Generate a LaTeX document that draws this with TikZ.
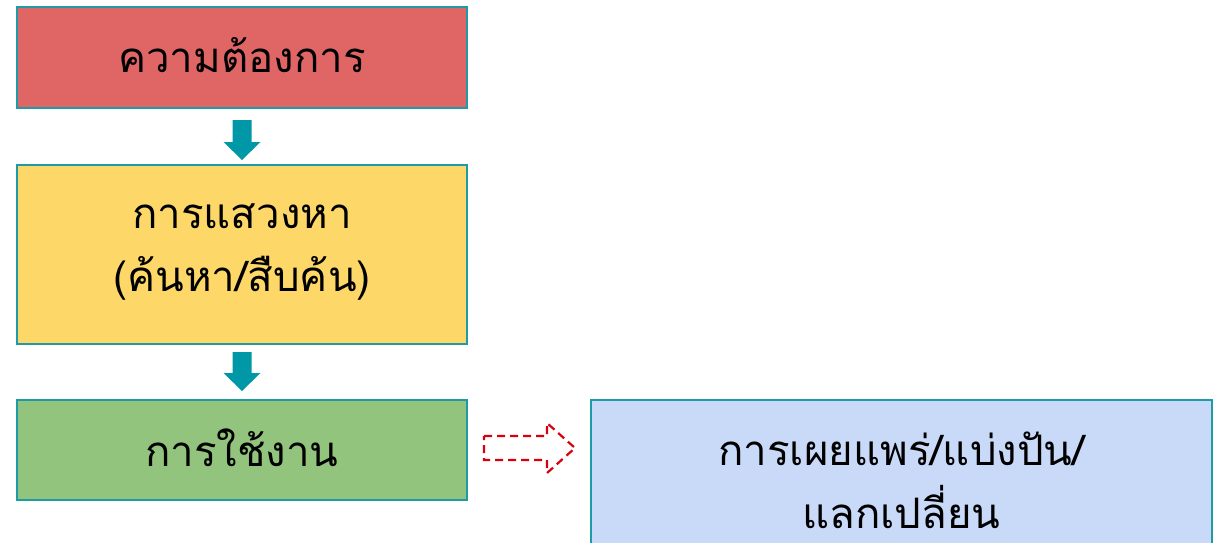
\documentclass[tikz,border=0pt]{standalone}
\usepackage{fontspec}
\newfontfamily\thaifont[Script=Thai]{Loma}
\usetikzlibrary{calc}
\definecolor{edgeteal}{HTML}{1F9BA8}
\definecolor{arrowteal}{HTML}{0097A7}
\definecolor{needred}{HTML}{E06666}
\definecolor{seekyellow}{HTML}{FDD868}
\definecolor{usegreen}{HTML}{93C47D}
\definecolor{shareblue}{HTML}{C9DAF8}
\definecolor{dashred}{HTML}{D9000D}
\tikzset{
  stagebox/.style={draw=edgeteal, line width=1.2pt, inner sep=0pt, outer sep=0pt},
  stagetext/.style={font=\thaifont\fontsize{42}{63}\selectfont, align=center, text=black},
  blockarrow/.style={fill=arrowteal, draw=none},
  dashedarrow/.style={draw=dashred, line width=2.2pt, dash pattern=on 8pt off 5pt, line join=miter}
}
% filled down arrow from coordinate #1 (tail centre) to #2 (tip)
\newcommand\blockdown[2]{%
  \fill[blockarrow] ($(#1)+(-9.5,0)$) -- ($(#1)+(9.5,0)$) -- ($(#2)+(9.5,-18)$)
    -- ($(#2)+(18.5,-18)$) -- (#2) -- ($(#2)+(-18.5,-18)$) -- ($(#2)+(-9.5,-18)$) -- cycle;}
\begin{document}
\begin{tikzpicture}[x=1pt,y=-1pt]
  \useasboundingbox (0,0) rectangle (1222,542);
  \begin{scope}
    \clip (0,0) rectangle (1222,542);
    % stage boxes
    \node[stagebox, fill=needred, minimum width=450pt, minimum height=101pt, anchor=north west] (need) at (17,7) {};
    \node[stagebox, fill=seekyellow, minimum width=450pt, minimum height=179pt, anchor=north west] (seek) at (17,165) {};
    \node[stagebox, fill=usegreen, minimum width=450pt, minimum height=100pt, anchor=north west] (use) at (17,400) {};
    \node[stagebox, fill=shareblue, minimum width=621pt, minimum height=160pt, anchor=north west] (share) at (591,400) {};
    % labels
    \node[stagetext] (needlbl) at ([yshift=2pt]need.center) {ความต้องการ};
    \node[stagetext] (seeklbl) at ([yshift=2pt]seek.center) {การแสวงหา\\(ค้นหา/สืบค้น)};
    \node[stagetext] (uselbl) at ([yshift=2pt]use.center) {การใช้งาน};
    \node[stagetext, anchor=north] (sharelbl) at ([yshift=-28pt]share.north) {การเผยแพร่/แบ่งปัน/\\แลกเปลี่ยน};
    % flow arrows between stages
    \coordinate (a1tail) at ([yshift=-12pt]need.south);
    \coordinate (a1tip) at ([yshift=5pt]seek.north);
    \coordinate (a2tail) at ([yshift=-8pt]seek.south);
    \coordinate (a2tip) at ([yshift=9pt]use.north);
    \blockdown{a1tail}{a1tip}
    \blockdown{a2tail}{a2tip}
    % dashed outline arrow towards sharing
    \coordinate (a3tail) at ([xshift=17pt,yshift=2pt]use.east);
    \coordinate (a3tip) at ([xshift=-16pt,yshift=2pt]share.west |- use.east);
    \draw[dashedarrow] ($(a3tail)+(0,-12)$) -- ($(a3tip)+(-28,-12)$) -- ($(a3tip)+(-28,-25)$)
      -- (a3tip) -- ($(a3tip)+(-28,25)$) -- ($(a3tip)+(-28,12)$) -- ($(a3tail)+(0,12)$) -- cycle;
  \end{scope}
\end{tikzpicture}
\end{document}
